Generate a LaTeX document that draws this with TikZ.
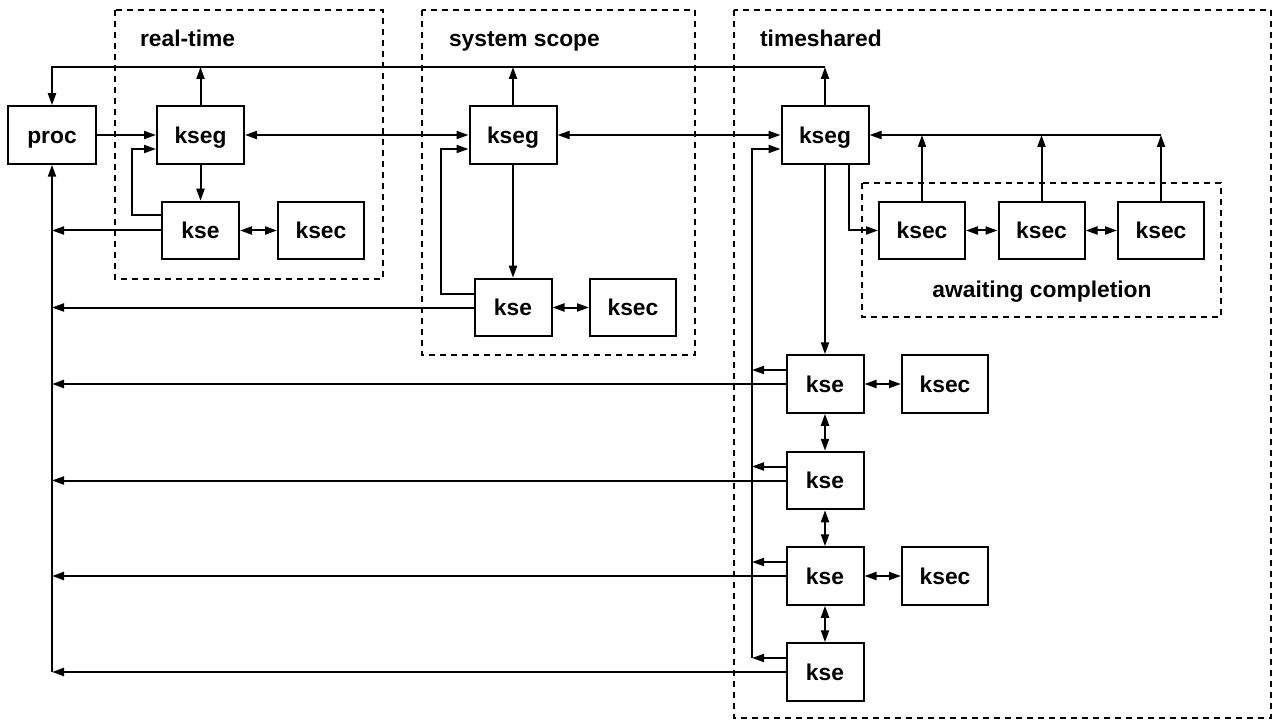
\documentclass[tikz,border=0pt]{standalone}
\usepackage{fontspec}
\setmainfont{Liberation Sans}
\usetikzlibrary{arrows.meta}

\begin{document}
\begin{tikzpicture}[x=0.5pt, y=-0.5pt,
  every node/.style = {font=\fontsize{11.4}{14}\selectfont\bfseries},
  box/.style = {shape=rectangle, draw, line width=1pt, inner sep=0pt,
    minimum height=28.75pt, text height=8.1pt, text depth=0pt},
  procbox/.style = {box, minimum width=44pt},
  segbox/.style = {box, minimum width=43.5pt},
  sebox/.style = {box, minimum width=38.5pt},
  secbox/.style = {box, minimum width=43pt},
  group/.style = {dash pattern=on 3pt off 2.5pt, line width=0.8pt},
  arr/.style = {-{Triangle[length=6pt,width=4pt]}, line width=1pt},
  biarr/.style = {{Triangle[length=6pt,width=4pt]}-{Triangle[length=6pt,width=4pt]},
    line width=1pt}
  ]
  \useasboundingbox (0,0) rectangle (1276,722);

  % groups
  \draw[group] (115,10) rectangle (383,279);
  \draw[group] (422,10) rectangle (695,355);
  \draw[group] (734,10) rectangle (1271,718);
  \draw[group] (862,183) rectangle (1221,317);
  \node[anchor=base west] (lblrt) at (133,47) {real-time};
  \node[anchor=base west] (lblss) at (442,47) {system scope};
  \node[anchor=base west] (lblts) at (753,47) {timeshared};
  \node[anchor=base] (lblac) at (1042,298) {awaiting completion};

  % boxes
  \node[procbox] (proc) at (52,135) {proc};
  \node[segbox] (ksegRT) at (200.5,135) {kseg};
  \node[sebox]  (kseRT)  at (200.5,230.5) {kse};
  \node[secbox] (ksecRT) at (321,230.5) {ksec};
  \node[segbox] (ksegSS) at (513,135) {kseg};
  \node[sebox]  (kseSS)  at (513,307.5) {kse};
  \node[secbox] (ksecSS) at (633,307.5) {ksec};
  \node[segbox] (ksegTS) at (825,135) {kseg};
  \node[secbox] (ksecA) at (922,230.5) {ksec};
  \node[secbox] (ksecB) at (1041.5,230.5) {ksec};
  \node[secbox] (ksecC) at (1161,230.5) {ksec};
  \node[sebox]  (kseA) at (825,384) {kse};
  \node[sebox]  (kseB) at (825,480.5) {kse};
  \node[sebox]  (kseC) at (825,576) {kse};
  \node[sebox]  (kseD) at (825,672) {kse};
  \node[secbox] (ksecTA) at (945,384) {ksec};
  \node[secbox] (ksecTC) at (945,576) {ksec};

  \coordinate (top) at (0,67);
  \coordinate (tbus) at (752,0);

  % top line back to proc
  \draw[arr] (ksegRT.north) -- (ksegRT.north |- top);
  \draw[arr] (ksegSS.north) -- (ksegSS.north |- top);
  \draw[arr] (ksegTS.north) -- (ksegTS.north |- top);
  \draw[arr] (ksegTS.north |- top) -| (proc.north);

  % kseg chain
  \draw[arr] (proc.east) -- (ksegRT.west);
  \draw[biarr] (ksegRT.east) -- (ksegSS.west);
  \draw[biarr] (ksegSS.east) -- (ksegTS.west);

  % real-time
  \draw[arr] (ksegRT.south) -- (kseRT.north);
  \draw[biarr] (kseRT.east) -- (ksecRT.west);
  \draw[arr] ([yshift=7.5pt]kseRT.west) -- ++(-29,0) |- ([yshift=-7pt]ksegRT.west);

  % system scope
  \draw[arr] (ksegSS.south) -- (kseSS.north);
  \draw[biarr] (kseSS.east) -- (ksecSS.west);
  \draw[arr] ([yshift=7pt]kseSS.west) -- ++(-33,0) |- ([yshift=-7pt]ksegSS.west);

  % awaiting completion
  \draw[arr] ([xshift=12pt]ksegTS.south) |- (ksecA.west);
  \draw[biarr] (ksecA.east) -- (ksecB.west);
  \draw[biarr] (ksecB.east) -- (ksecC.west);
  \draw[arr] (ksecA.north) -- (ksecA.north |- ksegTS.east);
  \draw[arr] (ksecB.north) -- (ksecB.north |- ksegTS.east);
  \draw[arr] (ksecC.north) -- (ksecC.north |- ksegTS.east);
  \draw[arr] (ksecC.north |- ksegTS.east) -- (ksegTS.east);

  % timeshared
  \draw[arr] (ksegTS.south) -- (kseA.north);
  \draw[biarr] (kseA.south) -- (kseB.north);
  \draw[biarr] (kseB.south) -- (kseC.north);
  \draw[biarr] (kseC.south) -- (kseD.north);
  \draw[biarr] (kseA.east) -- (ksecTA.west);
  \draw[biarr] (kseC.east) -- (ksecTC.west);
  \foreach \k in {kseA,kseB,kseC,kseD}
    \draw[arr] ([yshift=7pt]\k.west) -- ([yshift=7pt]\k.west -| tbus);
  \draw[arr] ([yshift=7pt]kseD.west -| tbus) |- ([yshift=-7pt]ksegTS.west);

  % back to proc
  \foreach \k in {kseRT,kseSS,kseA,kseB,kseC,kseD}
    \draw[arr] (\k.west) -- (\k.west -| proc);
  \draw[arr] (kseD.west -| proc) -- (proc.south);
\end{tikzpicture}
\end{document}
